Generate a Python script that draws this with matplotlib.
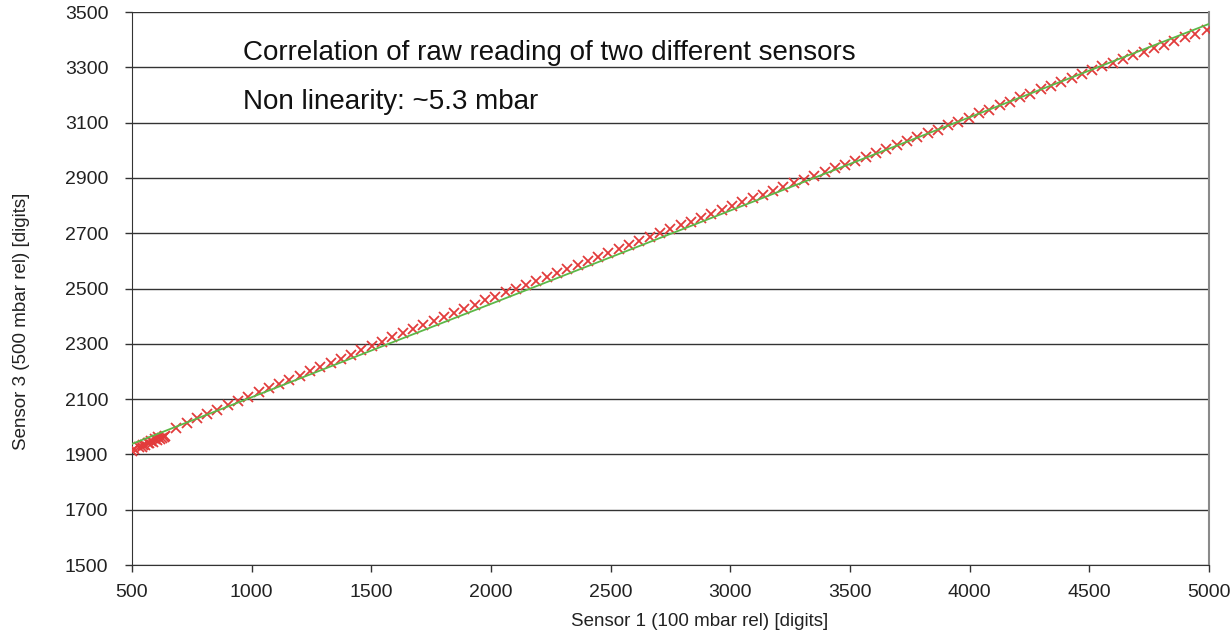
import matplotlib
matplotlib.use("Agg")
from matplotlib import pyplot as plt

plt.rcParams['font.family'] = ['Liberation Sans', 'DejaVu Sans']

# sensor 1 raw reading (x) vs sensor 3 raw reading (y), digits
sensor1 = [500, 510, 528, 540, 548, 556, 565, 572, 580, 588, 595, 603, 610, 618, 626, 634, 640,
           685, 728, 771, 814, 857, 900, 943, 986, 1029, 1072, 1115, 1158, 1201, 1244, 1287,
           1330, 1373, 1416, 1459, 1502, 1545, 1588, 1631, 1674, 1717, 1760, 1803, 1846, 1889,
           1932, 1975, 2018, 2061, 2104, 2147, 2190, 2233, 2276, 2319, 2362, 2405, 2448, 2491,
           2534, 2577, 2620, 2663, 2706, 2749, 2792, 2835, 2878, 2921, 2964, 3007, 3050, 3093,
           3136, 3179, 3222, 3265, 3308, 3351, 3394, 3437, 3480, 3523, 3566, 3609, 3652, 3695,
           3738, 3781, 3824, 3867, 3910, 3953, 3996, 4039, 4082, 4125, 4168, 4211, 4254, 4297,
           4340, 4383, 4426, 4469, 4512, 4555, 4598, 4641, 4684, 4727, 4770, 4813, 4856, 4899,
           4942, 4990]
sensor3 = [1914, 1918, 1926, 1928, 1935, 1934, 1942, 1940, 1949, 1946, 1955, 1951, 1962, 1957, 1960, 1963, 1966,
           1995, 2013, 2030, 2046, 2062, 2077, 2093, 2109, 2124, 2139, 2154, 2170, 2185, 2200, 2215,
           2231, 2246, 2261, 2277, 2292, 2308, 2323, 2338, 2354, 2369, 2384, 2398, 2413, 2427,
           2442, 2457, 2471, 2486, 2500, 2514, 2528, 2543, 2557, 2572, 2586, 2600, 2615, 2629,
           2643, 2657, 2671, 2686, 2700, 2714, 2728, 2742, 2756, 2770, 2784, 2798, 2812, 2826,
           2840, 2854, 2867, 2881, 2894, 2908, 2921, 2935, 2948, 2962, 2976, 2990, 3004, 3019,
           3033, 3047, 3061, 3075, 3090, 3104, 3118, 3133, 3147, 3162, 3176, 3191, 3205, 3220,
           3234, 3248, 3262, 3276, 3290, 3303, 3317, 3330, 3344, 3357, 3370, 3382, 3395, 3408,
           3420, 3435]

# linear trendline end points
trend_x = [500, 5000]
trend_y = [1938, 3457]

fig = plt.figure(figsize=(12.32, 6.39), dpi=100)
ax = fig.add_axes([0.1071, 0.1158, 0.8742, 0.8654])

ax.plot(sensor1, sensor3, linestyle='none', marker='x', color='#e23b3b',
        markersize=7, markeredgewidth=1.3, zorder=3)
ax.plot(trend_x, trend_y, color='#5cb848', linewidth=1.3, zorder=4)

ax.set_xlim(500, 5000)
ax.set_ylim(1500, 3500)
ax.set_xticks(range(500, 5001, 500))
ax.set_yticks(range(1500, 3501, 200))
ax.yaxis.grid(True, color='#333333', linewidth=1.0)
ax.set_axisbelow(True)

ax.spines['top'].set_visible(False)
ax.spines['right'].set_color('#8a8a8a')
ax.spines['right'].set_linewidth(1.5)
ax.spines['left'].set_color('#333333')
ax.spines['bottom'].set_color('#333333')
ax.tick_params(direction='out', length=5, width=1, color='#333333',
               labelsize=14, labelcolor='#222222')
ax.tick_params(axis='y', pad=12)
ax.tick_params(axis='x', pad=9)

ax.set_xlabel('Sensor 1 (100 mbar rel) [digits]', fontsize=13.5, color='#222222')
ax.set_ylabel('Sensor 3 (500 mbar rel) [digits]', fontsize=13.5, color='#222222')
ax.xaxis.set_label_coords(0.527, -0.103)
ax.yaxis.set_label_coords(-0.103, 0.44)
ax.xaxis.label.set_va('center')
ax.yaxis.label.set_va('center')

ax.text(0.103, 0.925, 'Correlation of raw reading of two different sensors',
        transform=ax.transAxes, fontsize=20, va='center', ha='left', color='#111111')
ax.text(0.103, 0.838, 'Non linearity: ~5.3 mbar',
        transform=ax.transAxes, fontsize=20, va='center', ha='left', color='#111111')

fig.savefig('out.png', dpi=100)
